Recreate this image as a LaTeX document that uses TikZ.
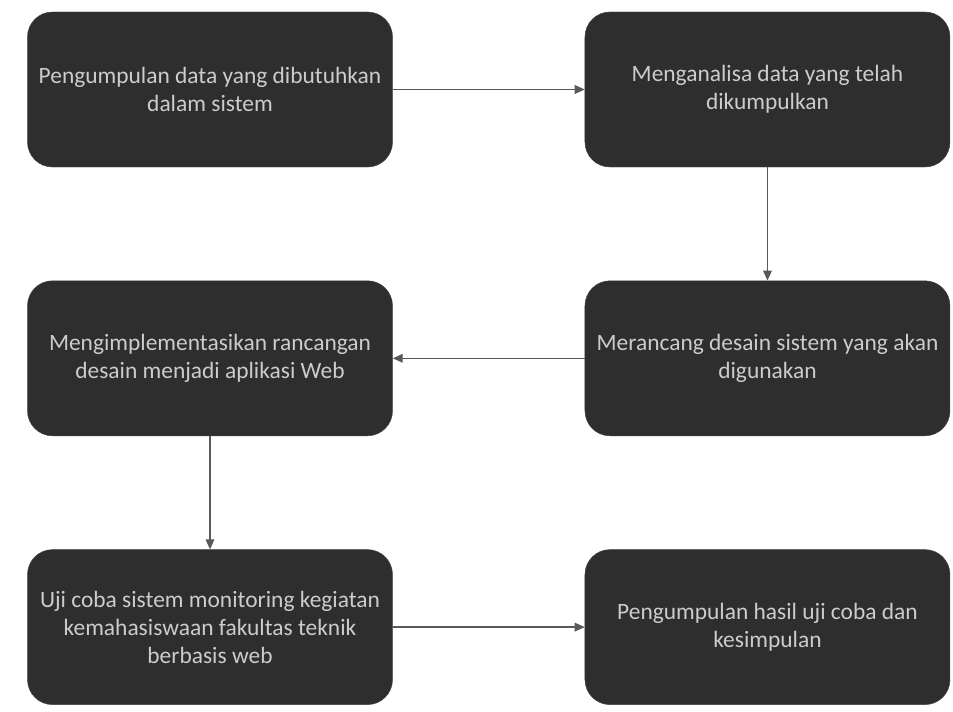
\documentclass[tikz,border=0pt]{standalone}
\usepackage{fontspec}
\setmainfont{Carlito}
\usetikzlibrary{arrows.meta, positioning}

\begin{document}
\begin{tikzpicture}[
    node distance=3.4cm and 5.76cm,
    stage/.style={rectangle, rounded corners=0.75cm, draw=black!75, fill=black!82, text=white!80!black, minimum width=10.95cm, minimum height=4.65cm, align=center, font=\fontsize{20}{24}\selectfont},
    arrow/.style={-{Triangle[length=3mm, width=2.6mm]}, line width=1.1pt, draw=black!65},
]

\useasboundingbox (-6.3,2.685) rectangle (22.29,-18.645);

\node[stage] (collect) {Pengumpulan data yang dibutuhkan\\dalam sistem};
\node[stage, right=of collect] (analyse) {Menganalisa data yang telah\\dikumpulkan};
\node[stage, below=of analyse] (design) {Merancang desain sistem yang akan\\digunakan};
\node[stage, below=of collect] (implement) {Mengimplementasikan rancangan\\desain menjadi aplikasi Web};
\node[stage, below=of implement] (test) {Uji coba sistem monitoring kegiatan\\kemahasiswaan fakultas teknik\\berbasis web};
\node[stage, right=of test] (result) {Pengumpulan hasil uji coba dan\\kesimpulan};

\draw[arrow] (collect) -- (analyse);
\draw[arrow] (analyse) -- (design);
\draw[arrow] (design) -- (implement);
\draw[arrow] (implement) -- (test);
\draw[arrow] (test) -- (result);

\end{tikzpicture}
\end{document}
